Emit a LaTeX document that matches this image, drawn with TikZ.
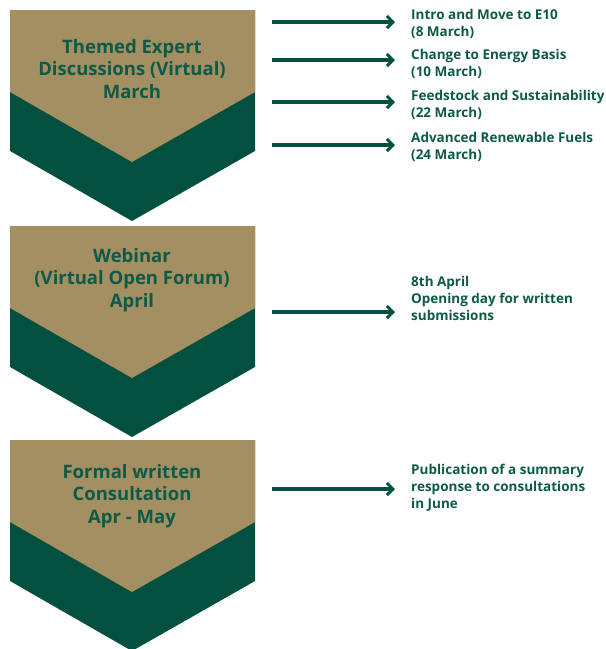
\documentclass[tikz,border=0pt]{standalone}
\usepackage{fontspec}
\setmainfont{Open Sans}
\usetikzlibrary{calc}
\usetikzlibrary{arrows.meta}
\usetikzlibrary{positioning}
\definecolor{tan}{HTML}{A38F62}
\definecolor{pine}{HTML}{02503F}
\definecolor{inkgreen}{HTML}{0C5A47}
\tikzset{
  stagetext/.style={text=inkgreen, align=center, inner sep=0, font=\bfseries\fontsize{18.5}{22.5}\selectfont},
  notetext/.style={text=inkgreen, align=left, anchor=west, inner sep=0, font=\bfseries\fontsize{13.5}{17}\selectfont},
  arr/.style={pine, line width=3.2pt, -{Straight Barb[length=6pt,width=12pt,line width=3pt]}, shorten >=16pt}
}

\begin{document}
\begin{tikzpicture}[x=1pt,y=-1pt]
\useasboundingbox (0,0) rectangle (606,649);
\clip (0,0) rectangle (606,649);
\foreach \t in {10,226,440} {
 \fill[pine] (10,\t) --++(245,0) --++(0,141) -- (132,\t+211) -- (10,\t+141) -- cycle;
 \fill[tan] (10,\t) --++(245,0) --++(0,82) -- (132,\t+152) -- (10,\t+82) -- cycle;
}
% stages
\node[stagetext] (march) at (132,69) {Themed Expert\\Discussions (Virtual)\\March};
\node[stagetext] (april) at (132,280) {Webinar\\(Virtual Open Forum)\\April};
\node[stagetext] (may) at (132,496) {Formal written\\Consultation\\Apr - May};
% notes
\node[notetext] (e10) at (411,24) {Intro and Move to E10\\(8 March)};
\node[notetext] (energy) at (411,64) {Change to Energy Basis\\(10 March)};
\node[notetext] (feed) at (411,105) {Feedstock and Sustainability\\(22 March)};
\node[notetext] (fuels) at (411,147) {Advanced Renewable Fuels\\(24 March)};
\node[notetext] (open) at (411,298) {8th April\\Opening day for written\\submissions};
\node[notetext] (june) at (411,488) {Publication of a summary\\response to consultations\\in June};
\coordinate (s1) at (272,22);
\coordinate (s2) at (272,60);
\coordinate (s3) at (272,102);
\coordinate (s4) at (272,145);
\coordinate (s5) at (272,312);
\coordinate (s6) at (272,489);
\draw[arr] (s1) -- (s1 -| e10.west);
\draw[arr] (s2) -- (s2 -| energy.west);
\draw[arr] (s3) -- (s3 -| feed.west);
\draw[arr] (s4) -- (s4 -| fuels.west);
\draw[arr] (s5) -- (s5 -| open.west);
\draw[arr] (s6) -- (s6 -| june.west);
\end{tikzpicture}
\end{document}
